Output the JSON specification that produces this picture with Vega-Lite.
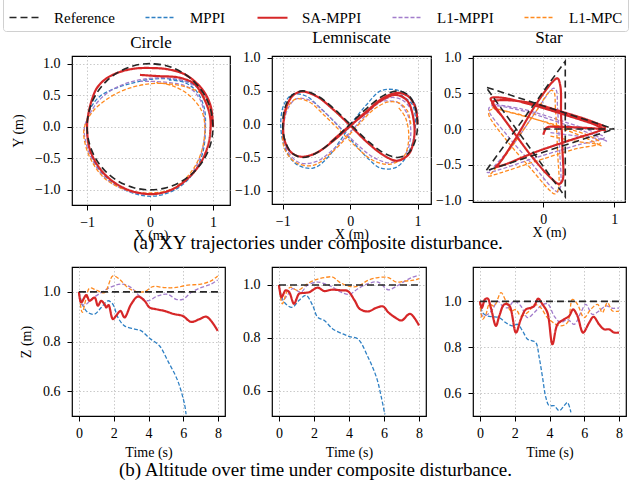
{
"$schema":"https://vega.github.io/schema/vega-lite/v6.json",
"padding":{"left":2,"top":-5,"right":0,"bottom":4},
"title":{"text":"(b) Altitude over time under composite disturbance.","orient":"bottom","anchor":"middle","fontSize":19,"offset":1},
"columns":3,
"bounds":"flush",
"align":"each",
"spacing":{"row":62,"column":42},
"resolve":{"scale":{"color":"shared","strokeDash":"shared","strokeWidth":"shared"},"legend":{"color":"shared","strokeDash":"shared","strokeWidth":"shared"}},
"datasets":{
"xy":[
{"p":"c","m":"MPPI","i":0,"x":1.0,"y":0.0},{"p":"c","m":"MPPI","i":1,"x":0.96,"y":0.3},{"p":"c","m":"MPPI","i":2,"x":0.84,"y":0.55},{"p":"c","m":"MPPI","i":3,"x":0.62,"y":0.7},{"p":"c","m":"MPPI","i":4,"x":0.3,"y":0.76},{"p":"c","m":"MPPI","i":5,"x":0.0,"y":0.75},{"p":"c","m":"MPPI","i":6,"x":-0.36,"y":0.67},{"p":"c","m":"MPPI","i":7,"x":-0.62,"y":0.58},{"p":"c","m":"MPPI","i":8,"x":-0.8,"y":0.48},{"p":"c","m":"MPPI","i":9,"x":-0.94,"y":0.3},{"p":"c","m":"MPPI","i":10,"x":-1.0,"y":0.04},{"p":"c","m":"MPPI","i":11,"x":-0.98,"y":-0.27},{"p":"c","m":"MPPI","i":12,"x":-0.86,"y":-0.6},{"p":"c","m":"MPPI","i":13,"x":-0.6,"y":-0.88},{"p":"c","m":"MPPI","i":14,"x":-0.28,"y":-1.05},{"p":"c","m":"MPPI","i":15,"x":0.06,"y":-1.1},{"p":"c","m":"MPPI","i":16,"x":0.43,"y":-0.98},{"p":"c","m":"MPPI","i":17,"x":0.7,"y":-0.72},{"p":"c","m":"MPPI","i":18,"x":0.84,"y":-0.4},{"p":"c","m":"MPPI","i":19,"x":0.88,"y":0.0},{"p":"c","m":"MPPI","i":20,"x":0.86,"y":0.3},{"p":"c","m":"MPPI","i":21,"x":0.74,"y":0.56},{"p":"c","m":"MPPI","i":22,"x":0.55,"y":0.7},{"p":"c","m":"MPPI","i":23,"x":0.3,"y":0.74},
{"p":"c","m":"L1-MPPI","i":0,"x":1.0,"y":0.0},{"p":"c","m":"L1-MPPI","i":1,"x":0.95,"y":0.32},{"p":"c","m":"L1-MPPI","i":2,"x":0.82,"y":0.56},{"p":"c","m":"L1-MPPI","i":3,"x":0.6,"y":0.7},{"p":"c","m":"L1-MPPI","i":4,"x":0.3,"y":0.77},{"p":"c","m":"L1-MPPI","i":5,"x":-0.05,"y":0.76},{"p":"c","m":"L1-MPPI","i":6,"x":-0.4,"y":0.68},{"p":"c","m":"L1-MPPI","i":7,"x":-0.7,"y":0.52},{"p":"c","m":"L1-MPPI","i":8,"x":-0.9,"y":0.3},{"p":"c","m":"L1-MPPI","i":9,"x":-1.04,"y":0.0},{"p":"c","m":"L1-MPPI","i":10,"x":-1.03,"y":-0.2},{"p":"c","m":"L1-MPPI","i":11,"x":-0.92,"y":-0.52},{"p":"c","m":"L1-MPPI","i":12,"x":-0.7,"y":-0.82},{"p":"c","m":"L1-MPPI","i":13,"x":-0.4,"y":-1.0},{"p":"c","m":"L1-MPPI","i":14,"x":-0.05,"y":-1.07},{"p":"c","m":"L1-MPPI","i":15,"x":0.3,"y":-1.02},{"p":"c","m":"L1-MPPI","i":16,"x":0.6,"y":-0.82},{"p":"c","m":"L1-MPPI","i":17,"x":0.78,"y":-0.52},{"p":"c","m":"L1-MPPI","i":18,"x":0.86,"y":-0.2},{"p":"c","m":"L1-MPPI","i":19,"x":0.87,"y":0.1},{"p":"c","m":"L1-MPPI","i":20,"x":0.8,"y":0.42},{"p":"c","m":"L1-MPPI","i":21,"x":0.62,"y":0.62},{"p":"c","m":"L1-MPPI","i":22,"x":0.3,"y":0.7},{"p":"c","m":"L1-MPPI","i":23,"x":-0.15,"y":0.72},
{"p":"c","m":"L1-MPC","i":0,"x":1.0,"y":0.0},{"p":"c","m":"L1-MPC","i":1,"x":0.95,"y":0.3},{"p":"c","m":"L1-MPC","i":2,"x":0.82,"y":0.52},{"p":"c","m":"L1-MPC","i":3,"x":0.6,"y":0.62},{"p":"c","m":"L1-MPC","i":4,"x":0.3,"y":0.68},{"p":"c","m":"L1-MPC","i":5,"x":0.0,"y":0.68},{"p":"c","m":"L1-MPC","i":6,"x":-0.36,"y":0.6},{"p":"c","m":"L1-MPC","i":7,"x":-0.68,"y":0.44},{"p":"c","m":"L1-MPC","i":8,"x":-0.92,"y":0.23},{"p":"c","m":"L1-MPC","i":9,"x":-1.04,"y":0.0},{"p":"c","m":"L1-MPC","i":10,"x":-1.05,"y":-0.17},{"p":"c","m":"L1-MPC","i":11,"x":-0.95,"y":-0.5},{"p":"c","m":"L1-MPC","i":12,"x":-0.72,"y":-0.82},{"p":"c","m":"L1-MPC","i":13,"x":-0.38,"y":-1.0},{"p":"c","m":"L1-MPC","i":14,"x":0.0,"y":-1.05},{"p":"c","m":"L1-MPC","i":15,"x":0.38,"y":-0.97},{"p":"c","m":"L1-MPC","i":16,"x":0.68,"y":-0.68},{"p":"c","m":"L1-MPC","i":17,"x":0.83,"y":-0.35},{"p":"c","m":"L1-MPC","i":18,"x":0.87,"y":0.0},{"p":"c","m":"L1-MPC","i":19,"x":0.82,"y":0.25},{"p":"c","m":"L1-MPC","i":20,"x":0.62,"y":0.5},{"p":"c","m":"L1-MPC","i":21,"x":0.35,"y":0.65},{"p":"c","m":"L1-MPC","i":22,"x":0.1,"y":0.7},
{"p":"c","m":"SA-MPPI","i":0,"x":1.0,"y":0.0},{"p":"c","m":"SA-MPPI","i":1,"x":0.97,"y":0.3},{"p":"c","m":"SA-MPPI","i":2,"x":0.88,"y":0.52},{"p":"c","m":"SA-MPPI","i":3,"x":0.75,"y":0.68},{"p":"c","m":"SA-MPPI","i":4,"x":0.55,"y":0.83},{"p":"c","m":"SA-MPPI","i":5,"x":0.28,"y":0.91},{"p":"c","m":"SA-MPPI","i":6,"x":0.0,"y":0.93},{"p":"c","m":"SA-MPPI","i":7,"x":-0.25,"y":0.92},{"p":"c","m":"SA-MPPI","i":8,"x":-0.5,"y":0.86},{"p":"c","m":"SA-MPPI","i":9,"x":-0.7,"y":0.76},{"p":"c","m":"SA-MPPI","i":10,"x":-0.84,"y":0.62},{"p":"c","m":"SA-MPPI","i":11,"x":-0.92,"y":0.44},{"p":"c","m":"SA-MPPI","i":12,"x":-0.98,"y":0.2},{"p":"c","m":"SA-MPPI","i":13,"x":-1.0,"y":0.0},{"p":"c","m":"SA-MPPI","i":14,"x":-0.96,"y":-0.35},{"p":"c","m":"SA-MPPI","i":15,"x":-0.8,"y":-0.66},{"p":"c","m":"SA-MPPI","i":16,"x":-0.6,"y":-0.86},{"p":"c","m":"SA-MPPI","i":17,"x":-0.35,"y":-1.0},{"p":"c","m":"SA-MPPI","i":18,"x":-0.1,"y":-1.06},{"p":"c","m":"SA-MPPI","i":19,"x":0.12,"y":-1.06},{"p":"c","m":"SA-MPPI","i":20,"x":0.38,"y":-0.98},{"p":"c","m":"SA-MPPI","i":21,"x":0.62,"y":-0.8},{"p":"c","m":"SA-MPPI","i":22,"x":0.8,"y":-0.58},{"p":"c","m":"SA-MPPI","i":23,"x":0.92,"y":-0.3},{"p":"c","m":"SA-MPPI","i":24,"x":0.96,"y":-0.05},{"p":"c","m":"SA-MPPI","i":25,"x":0.95,"y":0.18},{"p":"c","m":"SA-MPPI","i":26,"x":0.86,"y":0.44},{"p":"c","m":"SA-MPPI","i":27,"x":0.7,"y":0.68},{"p":"c","m":"SA-MPPI","i":28,"x":0.45,"y":0.78},{"p":"c","m":"SA-MPPI","i":29,"x":0.15,"y":0.8},{"p":"c","m":"SA-MPPI","i":30,"x":-0.16,"y":0.82},
{"p":"c","m":"Reference","i":0,"x":1.0,"y":0.0},{"p":"c","m":"Reference","i":1,"x":0.966,"y":0.259},{"p":"c","m":"Reference","i":2,"x":0.866,"y":0.5},{"p":"c","m":"Reference","i":3,"x":0.707,"y":0.707},{"p":"c","m":"Reference","i":4,"x":0.5,"y":0.866},{"p":"c","m":"Reference","i":5,"x":0.259,"y":0.966},{"p":"c","m":"Reference","i":6,"x":0.0,"y":1.0},{"p":"c","m":"Reference","i":7,"x":-0.259,"y":0.966},{"p":"c","m":"Reference","i":8,"x":-0.5,"y":0.866},{"p":"c","m":"Reference","i":9,"x":-0.707,"y":0.707},{"p":"c","m":"Reference","i":10,"x":-0.866,"y":0.5},{"p":"c","m":"Reference","i":11,"x":-0.966,"y":0.259},{"p":"c","m":"Reference","i":12,"x":-1.0,"y":0.0},{"p":"c","m":"Reference","i":13,"x":-0.966,"y":-0.259},{"p":"c","m":"Reference","i":14,"x":-0.866,"y":-0.5},{"p":"c","m":"Reference","i":15,"x":-0.707,"y":-0.707},{"p":"c","m":"Reference","i":16,"x":-0.5,"y":-0.866},{"p":"c","m":"Reference","i":17,"x":-0.259,"y":-0.966},{"p":"c","m":"Reference","i":18,"x":0.0,"y":-1.0},{"p":"c","m":"Reference","i":19,"x":0.259,"y":-0.966},{"p":"c","m":"Reference","i":20,"x":0.5,"y":-0.866},{"p":"c","m":"Reference","i":21,"x":0.707,"y":-0.707},{"p":"c","m":"Reference","i":22,"x":0.866,"y":-0.5},{"p":"c","m":"Reference","i":23,"x":0.966,"y":-0.259},{"p":"c","m":"Reference","i":24,"x":1.0,"y":0.0},{"p":"c","m":"Reference","i":25,"x":0.966,"y":0.259},{"p":"c","m":"Reference","i":26,"x":0.866,"y":0.5},{"p":"c","m":"Reference","i":27,"x":0.707,"y":0.707},{"p":"c","m":"Reference","i":28,"x":0.5,"y":0.866},{"p":"c","m":"Reference","i":29,"x":0.259,"y":0.966},{"p":"c","m":"Reference","i":30,"x":0.0,"y":1.0},
{"p":"l","m":"MPPI","i":0,"x":1.0,"y":0.0},{"p":"l","m":"MPPI","i":1,"x":0.97,"y":0.28},{"p":"l","m":"MPPI","i":2,"x":0.84,"y":0.45},{"p":"l","m":"MPPI","i":3,"x":0.65,"y":0.52},{"p":"l","m":"MPPI","i":4,"x":0.45,"y":0.5},{"p":"l","m":"MPPI","i":5,"x":0.25,"y":0.3},{"p":"l","m":"MPPI","i":6,"x":0.05,"y":0.05},{"p":"l","m":"MPPI","i":7,"x":-0.15,"y":-0.25},{"p":"l","m":"MPPI","i":8,"x":-0.35,"y":-0.52},{"p":"l","m":"MPPI","i":9,"x":-0.55,"y":-0.66},{"p":"l","m":"MPPI","i":10,"x":-0.8,"y":-0.6},{"p":"l","m":"MPPI","i":11,"x":-0.97,"y":-0.35},{"p":"l","m":"MPPI","i":12,"x":-1.03,"y":0.0},{"p":"l","m":"MPPI","i":13,"x":-0.98,"y":0.3},{"p":"l","m":"MPPI","i":14,"x":-0.85,"y":0.45},{"p":"l","m":"MPPI","i":15,"x":-0.65,"y":0.42},{"p":"l","m":"MPPI","i":16,"x":-0.45,"y":0.25},{"p":"l","m":"MPPI","i":17,"x":-0.2,"y":0.0},{"p":"l","m":"MPPI","i":18,"x":0.05,"y":-0.28},{"p":"l","m":"MPPI","i":19,"x":0.25,"y":-0.5},{"p":"l","m":"MPPI","i":20,"x":0.45,"y":-0.66},{"p":"l","m":"MPPI","i":21,"x":0.7,"y":-0.64},{"p":"l","m":"MPPI","i":22,"x":0.9,"y":-0.35},{"p":"l","m":"MPPI","i":23,"x":0.97,"y":0.0},{"p":"l","m":"MPPI","i":24,"x":0.92,"y":0.3},{"p":"l","m":"MPPI","i":25,"x":0.75,"y":0.44},
{"p":"l","m":"L1-MPPI","i":0,"x":0.95,"y":0.0},{"p":"l","m":"L1-MPPI","i":1,"x":0.9,"y":0.22},{"p":"l","m":"L1-MPPI","i":2,"x":0.78,"y":0.36},{"p":"l","m":"L1-MPPI","i":3,"x":0.6,"y":0.4},{"p":"l","m":"L1-MPPI","i":4,"x":0.4,"y":0.3},{"p":"l","m":"L1-MPPI","i":5,"x":0.2,"y":0.1},{"p":"l","m":"L1-MPPI","i":6,"x":0.0,"y":-0.12},{"p":"l","m":"L1-MPPI","i":7,"x":-0.25,"y":-0.38},{"p":"l","m":"L1-MPPI","i":8,"x":-0.5,"y":-0.56},{"p":"l","m":"L1-MPPI","i":9,"x":-0.75,"y":-0.58},{"p":"l","m":"L1-MPPI","i":10,"x":-0.93,"y":-0.4},{"p":"l","m":"L1-MPPI","i":11,"x":-0.99,"y":-0.1},{"p":"l","m":"L1-MPPI","i":12,"x":-0.93,"y":0.22},{"p":"l","m":"L1-MPPI","i":13,"x":-0.8,"y":0.38},{"p":"l","m":"L1-MPPI","i":14,"x":-0.6,"y":0.36},{"p":"l","m":"L1-MPPI","i":15,"x":-0.4,"y":0.2},{"p":"l","m":"L1-MPPI","i":16,"x":-0.15,"y":-0.05},{"p":"l","m":"L1-MPPI","i":17,"x":0.1,"y":-0.3},{"p":"l","m":"L1-MPPI","i":18,"x":0.35,"y":-0.5},{"p":"l","m":"L1-MPPI","i":19,"x":0.6,"y":-0.58},{"p":"l","m":"L1-MPPI","i":20,"x":0.82,"y":-0.45},{"p":"l","m":"L1-MPPI","i":21,"x":0.9,"y":-0.15},{"p":"l","m":"L1-MPPI","i":22,"x":0.85,"y":0.15},{"p":"l","m":"L1-MPPI","i":23,"x":0.7,"y":0.33},{"p":"l","m":"L1-MPPI","i":24,"x":0.5,"y":0.35},
{"p":"l","m":"L1-MPC","i":0,"x":0.9,"y":0.0},{"p":"l","m":"L1-MPC","i":1,"x":0.85,"y":0.2},{"p":"l","m":"L1-MPC","i":2,"x":0.72,"y":0.32},{"p":"l","m":"L1-MPC","i":3,"x":0.55,"y":0.33},{"p":"l","m":"L1-MPC","i":4,"x":0.35,"y":0.22},{"p":"l","m":"L1-MPC","i":5,"x":0.15,"y":0.02},{"p":"l","m":"L1-MPC","i":6,"x":-0.05,"y":-0.2},{"p":"l","m":"L1-MPC","i":7,"x":-0.3,"y":-0.45},{"p":"l","m":"L1-MPC","i":8,"x":-0.55,"y":-0.62},{"p":"l","m":"L1-MPC","i":9,"x":-0.8,"y":-0.58},{"p":"l","m":"L1-MPC","i":10,"x":-0.97,"y":-0.38},{"p":"l","m":"L1-MPC","i":11,"x":-1.0,"y":-0.08},{"p":"l","m":"L1-MPC","i":12,"x":-0.93,"y":0.25},{"p":"l","m":"L1-MPC","i":13,"x":-0.8,"y":0.38},{"p":"l","m":"L1-MPC","i":14,"x":-0.6,"y":0.33},{"p":"l","m":"L1-MPC","i":15,"x":-0.4,"y":0.15},{"p":"l","m":"L1-MPC","i":16,"x":-0.15,"y":-0.1},{"p":"l","m":"L1-MPC","i":17,"x":0.1,"y":-0.35},{"p":"l","m":"L1-MPC","i":18,"x":0.35,"y":-0.55},{"p":"l","m":"L1-MPC","i":19,"x":0.6,"y":-0.6},{"p":"l","m":"L1-MPC","i":20,"x":0.8,"y":-0.48},{"p":"l","m":"L1-MPC","i":21,"x":0.87,"y":-0.2},{"p":"l","m":"L1-MPC","i":22,"x":0.82,"y":0.1},{"p":"l","m":"L1-MPC","i":23,"x":0.7,"y":0.27},
{"p":"l","m":"SA-MPPI","i":0,"x":1.0,"y":0.0},{"p":"l","m":"SA-MPPI","i":1,"x":0.97,"y":0.25},{"p":"l","m":"SA-MPPI","i":2,"x":0.86,"y":0.42},{"p":"l","m":"SA-MPPI","i":3,"x":0.7,"y":0.47},{"p":"l","m":"SA-MPPI","i":4,"x":0.5,"y":0.4},{"p":"l","m":"SA-MPPI","i":5,"x":0.25,"y":0.2},{"p":"l","m":"SA-MPPI","i":6,"x":0.0,"y":-0.03},{"p":"l","m":"SA-MPPI","i":7,"x":-0.25,"y":-0.25},{"p":"l","m":"SA-MPPI","i":8,"x":-0.5,"y":-0.43},{"p":"l","m":"SA-MPPI","i":9,"x":-0.72,"y":-0.49},{"p":"l","m":"SA-MPPI","i":10,"x":-0.88,"y":-0.42},{"p":"l","m":"SA-MPPI","i":11,"x":-0.98,"y":-0.22},{"p":"l","m":"SA-MPPI","i":12,"x":-0.99,"y":0.02},{"p":"l","m":"SA-MPPI","i":13,"x":-0.95,"y":0.25},{"p":"l","m":"SA-MPPI","i":14,"x":-0.85,"y":0.43},{"p":"l","m":"SA-MPPI","i":15,"x":-0.72,"y":0.49},{"p":"l","m":"SA-MPPI","i":16,"x":-0.5,"y":0.42},{"p":"l","m":"SA-MPPI","i":17,"x":-0.25,"y":0.22},{"p":"l","m":"SA-MPPI","i":18,"x":0.0,"y":-0.02},{"p":"l","m":"SA-MPPI","i":19,"x":0.25,"y":-0.27},{"p":"l","m":"SA-MPPI","i":20,"x":0.5,"y":-0.47},{"p":"l","m":"SA-MPPI","i":21,"x":0.7,"y":-0.55},{"p":"l","m":"SA-MPPI","i":22,"x":0.87,"y":-0.45},{"p":"l","m":"SA-MPPI","i":23,"x":0.95,"y":-0.2},{"p":"l","m":"SA-MPPI","i":24,"x":0.94,"y":0.08},{"p":"l","m":"SA-MPPI","i":25,"x":0.85,"y":0.35},{"p":"l","m":"SA-MPPI","i":26,"x":0.68,"y":0.44},{"p":"l","m":"SA-MPPI","i":27,"x":0.45,"y":0.35},{"p":"l","m":"SA-MPPI","i":28,"x":0.2,"y":0.14},{"p":"l","m":"SA-MPPI","i":29,"x":-0.05,"y":-0.06},{"p":"l","m":"SA-MPPI","i":30,"x":-0.3,"y":-0.28},
{"p":"l","m":"Reference","i":0,"x":1.0,"y":0.0},{"p":"l","m":"Reference","i":1,"x":0.966,"y":0.25},{"p":"l","m":"Reference","i":2,"x":0.866,"y":0.433},{"p":"l","m":"Reference","i":3,"x":0.707,"y":0.5},{"p":"l","m":"Reference","i":4,"x":0.5,"y":0.433},{"p":"l","m":"Reference","i":5,"x":0.259,"y":0.25},{"p":"l","m":"Reference","i":6,"x":0.0,"y":0.0},{"p":"l","m":"Reference","i":7,"x":-0.259,"y":-0.25},{"p":"l","m":"Reference","i":8,"x":-0.5,"y":-0.433},{"p":"l","m":"Reference","i":9,"x":-0.707,"y":-0.5},{"p":"l","m":"Reference","i":10,"x":-0.866,"y":-0.433},{"p":"l","m":"Reference","i":11,"x":-0.966,"y":-0.25},{"p":"l","m":"Reference","i":12,"x":-1.0,"y":0.0},{"p":"l","m":"Reference","i":13,"x":-0.966,"y":0.25},{"p":"l","m":"Reference","i":14,"x":-0.866,"y":0.433},{"p":"l","m":"Reference","i":15,"x":-0.707,"y":0.5},{"p":"l","m":"Reference","i":16,"x":-0.5,"y":0.433},{"p":"l","m":"Reference","i":17,"x":-0.259,"y":0.25},{"p":"l","m":"Reference","i":18,"x":0.0,"y":0.0},{"p":"l","m":"Reference","i":19,"x":0.259,"y":-0.25},{"p":"l","m":"Reference","i":20,"x":0.5,"y":-0.433},{"p":"l","m":"Reference","i":21,"x":0.707,"y":-0.5},{"p":"l","m":"Reference","i":22,"x":0.866,"y":-0.433},{"p":"l","m":"Reference","i":23,"x":0.966,"y":-0.25},{"p":"l","m":"Reference","i":24,"x":1.0,"y":0.0},{"p":"l","m":"Reference","i":25,"x":0.966,"y":0.25},{"p":"l","m":"Reference","i":26,"x":0.866,"y":0.433},{"p":"l","m":"Reference","i":27,"x":0.707,"y":0.5},{"p":"l","m":"Reference","i":28,"x":0.5,"y":0.433},{"p":"l","m":"Reference","i":29,"x":0.259,"y":0.25},{"p":"l","m":"Reference","i":30,"x":0.0,"y":0.0},
{"p":"s","m":"L1-MPPI","i":0,"x":0.1,"y":-0.05},{"p":"s","m":"L1-MPPI","i":1,"x":0.5,"y":-0.1},{"p":"s","m":"L1-MPPI","i":2,"x":0.85,"y":-0.15},{"p":"s","m":"L1-MPPI","i":3,"x":0.89,"y":-0.17},{"p":"s","m":"L1-MPPI","i":4,"x":0.7,"y":-0.08},{"p":"s","m":"L1-MPPI","i":5,"x":0.2,"y":0.1},{"p":"s","m":"L1-MPPI","i":6,"x":-0.4,"y":0.28},{"p":"s","m":"L1-MPPI","i":7,"x":-0.74,"y":0.32},{"p":"s","m":"L1-MPPI","i":8,"x":-0.77,"y":0.27},{"p":"s","m":"L1-MPPI","i":9,"x":-0.5,"y":-0.1},{"p":"s","m":"L1-MPPI","i":10,"x":-0.15,"y":-0.5},{"p":"s","m":"L1-MPPI","i":11,"x":0.12,"y":-0.82},{"p":"s","m":"L1-MPPI","i":12,"x":0.2,"y":-0.88},{"p":"s","m":"L1-MPPI","i":13,"x":0.24,"y":-0.82},{"p":"s","m":"L1-MPPI","i":14,"x":0.23,"y":-0.3},{"p":"s","m":"L1-MPPI","i":15,"x":0.2,"y":0.3},{"p":"s","m":"L1-MPPI","i":16,"x":0.18,"y":0.55},{"p":"s","m":"L1-MPPI","i":17,"x":0.14,"y":0.57},{"p":"s","m":"L1-MPPI","i":18,"x":-0.1,"y":0.25},{"p":"s","m":"L1-MPPI","i":19,"x":-0.45,"y":-0.25},{"p":"s","m":"L1-MPPI","i":20,"x":-0.74,"y":-0.57},{"p":"s","m":"L1-MPPI","i":21,"x":-0.79,"y":-0.61},{"p":"s","m":"L1-MPPI","i":22,"x":-0.65,"y":-0.58},{"p":"s","m":"L1-MPPI","i":23,"x":-0.1,"y":-0.4},{"p":"s","m":"L1-MPPI","i":24,"x":0.5,"y":-0.22},{"p":"s","m":"L1-MPPI","i":25,"x":0.86,"y":-0.12},{"p":"s","m":"L1-MPPI","i":26,"x":0.8,"y":-0.08},{"p":"s","m":"L1-MPPI","i":27,"x":0.3,"y":0.1},{"p":"s","m":"L1-MPPI","i":28,"x":-0.3,"y":0.28},{"p":"s","m":"L1-MPPI","i":29,"x":-0.72,"y":0.35},
{"p":"s","m":"L1-MPC","i":0,"x":0.1,"y":-0.1},{"p":"s","m":"L1-MPC","i":1,"x":0.45,"y":-0.17},{"p":"s","m":"L1-MPC","i":2,"x":0.78,"y":-0.22},{"p":"s","m":"L1-MPC","i":3,"x":0.82,"y":-0.24},{"p":"s","m":"L1-MPC","i":4,"x":0.65,"y":-0.15},{"p":"s","m":"L1-MPC","i":5,"x":0.15,"y":0.05},{"p":"s","m":"L1-MPC","i":6,"x":-0.4,"y":0.22},{"p":"s","m":"L1-MPC","i":7,"x":-0.74,"y":0.27},{"p":"s","m":"L1-MPC","i":8,"x":-0.77,"y":0.21},{"p":"s","m":"L1-MPC","i":9,"x":-0.5,"y":-0.18},{"p":"s","m":"L1-MPC","i":10,"x":-0.18,"y":-0.55},{"p":"s","m":"L1-MPC","i":11,"x":0.08,"y":-0.85},{"p":"s","m":"L1-MPC","i":12,"x":0.16,"y":-0.91},{"p":"s","m":"L1-MPC","i":13,"x":0.21,"y":-0.85},{"p":"s","m":"L1-MPC","i":14,"x":0.2,"y":-0.3},{"p":"s","m":"L1-MPC","i":15,"x":0.17,"y":0.3},{"p":"s","m":"L1-MPC","i":16,"x":0.15,"y":0.52},{"p":"s","m":"L1-MPC","i":17,"x":0.11,"y":0.54},{"p":"s","m":"L1-MPC","i":18,"x":-0.12,"y":0.22},{"p":"s","m":"L1-MPC","i":19,"x":-0.48,"y":-0.3},{"p":"s","m":"L1-MPC","i":20,"x":-0.73,"y":-0.62},{"p":"s","m":"L1-MPC","i":21,"x":-0.77,"y":-0.66},{"p":"s","m":"L1-MPC","i":22,"x":-0.62,"y":-0.62},{"p":"s","m":"L1-MPC","i":23,"x":-0.1,"y":-0.45},{"p":"s","m":"L1-MPC","i":24,"x":0.45,"y":-0.28},{"p":"s","m":"L1-MPC","i":25,"x":0.8,"y":-0.2},{"p":"s","m":"L1-MPC","i":26,"x":0.7,"y":-0.12},{"p":"s","m":"L1-MPC","i":27,"x":0.2,"y":0.05},{"p":"s","m":"L1-MPC","i":28,"x":-0.35,"y":0.2},{"p":"s","m":"L1-MPC","i":29,"x":-0.72,"y":0.3},
{"p":"s","m":"SA-MPPI","i":0,"x":0.0,"y":-0.08},{"p":"s","m":"SA-MPPI","i":1,"x":0.05,"y":0.02},{"p":"s","m":"SA-MPPI","i":2,"x":0.2,"y":0.03},{"p":"s","m":"SA-MPPI","i":3,"x":0.5,"y":0.02},{"p":"s","m":"SA-MPPI","i":4,"x":0.8,"y":0.0},{"p":"s","m":"SA-MPPI","i":5,"x":0.87,"y":-0.02},{"p":"s","m":"SA-MPPI","i":6,"x":0.75,"y":0.05},{"p":"s","m":"SA-MPPI","i":7,"x":0.3,"y":0.2},{"p":"s","m":"SA-MPPI","i":8,"x":-0.2,"y":0.35},{"p":"s","m":"SA-MPPI","i":9,"x":-0.6,"y":0.44},{"p":"s","m":"SA-MPPI","i":10,"x":-0.74,"y":0.43},{"p":"s","m":"SA-MPPI","i":11,"x":-0.7,"y":0.35},{"p":"s","m":"SA-MPPI","i":12,"x":-0.45,"y":0.0},{"p":"s","m":"SA-MPPI","i":13,"x":-0.15,"y":-0.4},{"p":"s","m":"SA-MPPI","i":14,"x":0.1,"y":-0.68},{"p":"s","m":"SA-MPPI","i":15,"x":0.22,"y":-0.77},{"p":"s","m":"SA-MPPI","i":16,"x":0.27,"y":-0.72},{"p":"s","m":"SA-MPPI","i":17,"x":0.27,"y":-0.3},{"p":"s","m":"SA-MPPI","i":18,"x":0.25,"y":0.2},{"p":"s","m":"SA-MPPI","i":19,"x":0.24,"y":0.6},{"p":"s","m":"SA-MPPI","i":20,"x":0.2,"y":0.71},{"p":"s","m":"SA-MPPI","i":21,"x":0.13,"y":0.66},{"p":"s","m":"SA-MPPI","i":22,"x":-0.1,"y":0.35},{"p":"s","m":"SA-MPPI","i":23,"x":-0.4,"y":-0.15},{"p":"s","m":"SA-MPPI","i":24,"x":-0.62,"y":-0.48},{"p":"s","m":"SA-MPPI","i":25,"x":-0.67,"y":-0.53},{"p":"s","m":"SA-MPPI","i":26,"x":-0.55,"y":-0.5},{"p":"s","m":"SA-MPPI","i":27,"x":-0.1,"y":-0.32},{"p":"s","m":"SA-MPPI","i":28,"x":0.4,"y":-0.15},{"p":"s","m":"SA-MPPI","i":29,"x":0.8,"y":-0.02},{"p":"s","m":"SA-MPPI","i":30,"x":0.87,"y":0.02},{"p":"s","m":"SA-MPPI","i":31,"x":0.7,"y":0.1},{"p":"s","m":"SA-MPPI","i":32,"x":0.3,"y":0.23},{"p":"s","m":"SA-MPPI","i":33,"x":-0.2,"y":0.37},{"p":"s","m":"SA-MPPI","i":34,"x":-0.65,"y":0.4},{"p":"s","m":"SA-MPPI","i":35,"x":-0.72,"y":0.37},{"p":"s","m":"SA-MPPI","i":36,"x":-0.6,"y":0.2},
{"p":"s","m":"Reference","i":0,"x":0.0,"y":0.0},{"p":"s","m":"Reference","i":1,"x":1.0,"y":0.0},{"p":"s","m":"Reference","i":2,"x":-0.809,"y":0.588},{"p":"s","m":"Reference","i":3,"x":0.309,"y":-0.951},{"p":"s","m":"Reference","i":4,"x":0.309,"y":0.951},{"p":"s","m":"Reference","i":5,"x":-0.809,"y":-0.588},{"p":"s","m":"Reference","i":6,"x":1.0,"y":0.0}
],
"z":[
{"p":"c","m":"MPPI","i":0,"t":0,"z":1.0},{"p":"c","m":"MPPI","i":1,"t":0.23,"z":0.944},{"p":"c","m":"MPPI","i":2,"t":0.52,"z":0.917},{"p":"c","m":"MPPI","i":3,"t":0.9,"z":0.91},{"p":"c","m":"MPPI","i":4,"t":1.28,"z":0.937},{"p":"c","m":"MPPI","i":5,"t":1.67,"z":0.964},{"p":"c","m":"MPPI","i":6,"t":1.95,"z":0.95},{"p":"c","m":"MPPI","i":7,"t":2.24,"z":0.897},{"p":"c","m":"MPPI","i":8,"t":2.62,"z":0.863},{"p":"c","m":"MPPI","i":9,"t":3.2,"z":0.85},{"p":"c","m":"MPPI","i":10,"t":3.58,"z":0.843},{"p":"c","m":"MPPI","i":11,"t":4.06,"z":0.813},{"p":"c","m":"MPPI","i":12,"t":4.63,"z":0.783},{"p":"c","m":"MPPI","i":13,"t":5.11,"z":0.722},{"p":"c","m":"MPPI","i":14,"t":5.68,"z":0.642},{"p":"c","m":"MPPI","i":15,"t":6.07,"z":0.548},{"p":"c","m":"MPPI","i":16,"t":6.16,"z":0.507},
{"p":"c","m":"L1-MPPI","i":0,"t":0,"z":1.0},{"p":"c","m":"L1-MPPI","i":1,"t":0.13,"z":0.95},{"p":"c","m":"L1-MPPI","i":2,"t":0.42,"z":0.95},{"p":"c","m":"L1-MPPI","i":3,"t":0.71,"z":0.97},{"p":"c","m":"L1-MPPI","i":4,"t":1.28,"z":0.997},{"p":"c","m":"L1-MPPI","i":5,"t":1.86,"z":1.02},{"p":"c","m":"L1-MPPI","i":6,"t":2.43,"z":1.031},{"p":"c","m":"L1-MPPI","i":7,"t":3.0,"z":1.017},{"p":"c","m":"L1-MPPI","i":8,"t":3.58,"z":0.977},{"p":"c","m":"L1-MPPI","i":9,"t":3.96,"z":0.964},{"p":"c","m":"L1-MPPI","i":10,"t":4.54,"z":0.984},{"p":"c","m":"L1-MPPI","i":11,"t":5.11,"z":0.99},{"p":"c","m":"L1-MPPI","i":12,"t":5.59,"z":0.97},{"p":"c","m":"L1-MPPI","i":13,"t":5.97,"z":0.97},{"p":"c","m":"L1-MPPI","i":14,"t":6.45,"z":0.997},{"p":"c","m":"L1-MPPI","i":15,"t":7.02,"z":1.017},{"p":"c","m":"L1-MPPI","i":16,"t":7.6,"z":1.031},{"p":"c","m":"L1-MPPI","i":17,"t":7.98,"z":1.048},
{"p":"c","m":"L1-MPC","i":0,"t":0,"z":1.0},{"p":"c","m":"L1-MPC","i":1,"t":0.19,"z":0.917},{"p":"c","m":"L1-MPC","i":2,"t":0.42,"z":0.977},{"p":"c","m":"L1-MPC","i":3,"t":0.61,"z":1.015},{"p":"c","m":"L1-MPC","i":4,"t":1.0,"z":1.007},{"p":"c","m":"L1-MPC","i":5,"t":1.47,"z":0.997},{"p":"c","m":"L1-MPC","i":6,"t":1.95,"z":1.064},{"p":"c","m":"L1-MPC","i":7,"t":2.33,"z":1.051},{"p":"c","m":"L1-MPC","i":8,"t":2.81,"z":1.017},{"p":"c","m":"L1-MPC","i":9,"t":3.29,"z":1.001},{"p":"c","m":"L1-MPC","i":10,"t":3.77,"z":1.001},{"p":"c","m":"L1-MPC","i":11,"t":4.25,"z":1.021},{"p":"c","m":"L1-MPC","i":12,"t":4.92,"z":1.017},{"p":"c","m":"L1-MPC","i":13,"t":5.49,"z":1.017},{"p":"c","m":"L1-MPC","i":14,"t":6.26,"z":1.027},{"p":"c","m":"L1-MPC","i":15,"t":7.02,"z":1.031},{"p":"c","m":"L1-MPC","i":16,"t":7.6,"z":1.044},{"p":"c","m":"L1-MPC","i":17,"t":7.98,"z":1.064},
{"p":"c","m":"SA-MPPI","i":0,"t":0,"z":1.0},{"p":"c","m":"SA-MPPI","i":1,"t":0.13,"z":0.957},{"p":"c","m":"SA-MPPI","i":2,"t":0.42,"z":0.987},{"p":"c","m":"SA-MPPI","i":3,"t":0.61,"z":0.964},{"p":"c","m":"SA-MPPI","i":4,"t":0.9,"z":0.977},{"p":"c","m":"SA-MPPI","i":5,"t":1.09,"z":0.944},{"p":"c","m":"SA-MPPI","i":6,"t":1.28,"z":0.964},{"p":"c","m":"SA-MPPI","i":7,"t":1.47,"z":0.95},{"p":"c","m":"SA-MPPI","i":8,"t":1.57,"z":0.937},{"p":"c","m":"SA-MPPI","i":9,"t":1.7,"z":0.947},{"p":"c","m":"SA-MPPI","i":10,"t":1.95,"z":0.89},{"p":"c","m":"SA-MPPI","i":11,"t":2.14,"z":0.904},{"p":"c","m":"SA-MPPI","i":12,"t":2.39,"z":0.923},{"p":"c","m":"SA-MPPI","i":13,"t":2.62,"z":0.897},{"p":"c","m":"SA-MPPI","i":14,"t":3.0,"z":0.95},{"p":"c","m":"SA-MPPI","i":15,"t":3.39,"z":0.981},{"p":"c","m":"SA-MPPI","i":16,"t":3.77,"z":0.964},{"p":"c","m":"SA-MPPI","i":17,"t":4.06,"z":0.937},{"p":"c","m":"SA-MPPI","i":18,"t":4.44,"z":0.93},{"p":"c","m":"SA-MPPI","i":19,"t":4.92,"z":0.923},{"p":"c","m":"SA-MPPI","i":20,"t":5.49,"z":0.91},{"p":"c","m":"SA-MPPI","i":21,"t":5.97,"z":0.903},{"p":"c","m":"SA-MPPI","i":22,"t":6.45,"z":0.879},{"p":"c","m":"SA-MPPI","i":23,"t":6.93,"z":0.89},{"p":"c","m":"SA-MPPI","i":24,"t":7.31,"z":0.9},{"p":"c","m":"SA-MPPI","i":25,"t":7.6,"z":0.883},{"p":"c","m":"SA-MPPI","i":26,"t":7.98,"z":0.843},
{"p":"c","m":"Reference","i":0,"t":0,"z":1.0},{"p":"c","m":"Reference","i":1,"t":8,"z":1.0},
{"p":"l","m":"MPPI","i":0,"t":0,"z":1.0},{"p":"l","m":"MPPI","i":1,"t":0.19,"z":0.948},{"p":"l","m":"MPPI","i":2,"t":0.48,"z":0.923},{"p":"l","m":"MPPI","i":3,"t":0.77,"z":0.916},{"p":"l","m":"MPPI","i":4,"t":1.15,"z":0.942},{"p":"l","m":"MPPI","i":5,"t":1.54,"z":0.961},{"p":"l","m":"MPPI","i":6,"t":1.92,"z":0.923},{"p":"l","m":"MPPI","i":7,"t":2.21,"z":0.878},{"p":"l","m":"MPPI","i":8,"t":2.59,"z":0.866},{"p":"l","m":"MPPI","i":9,"t":3.07,"z":0.834},{"p":"l","m":"MPPI","i":10,"t":3.65,"z":0.815},{"p":"l","m":"MPPI","i":11,"t":4.03,"z":0.805},{"p":"l","m":"MPPI","i":12,"t":4.51,"z":0.796},{"p":"l","m":"MPPI","i":13,"t":5.09,"z":0.727},{"p":"l","m":"MPPI","i":14,"t":5.57,"z":0.651},{"p":"l","m":"MPPI","i":15,"t":5.85,"z":0.575},{"p":"l","m":"MPPI","i":16,"t":6.05,"z":0.511},
{"p":"l","m":"L1-MPPI","i":0,"t":0,"z":1.0},{"p":"l","m":"L1-MPPI","i":1,"t":0.19,"z":0.942},{"p":"l","m":"L1-MPPI","i":2,"t":0.48,"z":0.961},{"p":"l","m":"L1-MPPI","i":3,"t":0.77,"z":0.986},{"p":"l","m":"L1-MPPI","i":4,"t":1.25,"z":0.973},{"p":"l","m":"L1-MPPI","i":5,"t":1.63,"z":0.999},{"p":"l","m":"L1-MPPI","i":6,"t":2.21,"z":1.011},{"p":"l","m":"L1-MPPI","i":7,"t":2.59,"z":1.005},{"p":"l","m":"L1-MPPI","i":8,"t":2.98,"z":0.995},{"p":"l","m":"L1-MPPI","i":9,"t":3.55,"z":0.973},{"p":"l","m":"L1-MPPI","i":10,"t":4.03,"z":0.965},{"p":"l","m":"L1-MPPI","i":11,"t":4.51,"z":0.986},{"p":"l","m":"L1-MPPI","i":12,"t":5.09,"z":1.005},{"p":"l","m":"L1-MPPI","i":13,"t":5.66,"z":1.011},{"p":"l","m":"L1-MPPI","i":14,"t":6.24,"z":0.982},{"p":"l","m":"L1-MPPI","i":15,"t":6.62,"z":0.992},{"p":"l","m":"L1-MPPI","i":16,"t":7.1,"z":1.011},{"p":"l","m":"L1-MPPI","i":17,"t":7.58,"z":1.028},{"p":"l","m":"L1-MPPI","i":18,"t":8.0,"z":1.037},
{"p":"l","m":"L1-MPC","i":0,"t":0,"z":1.0},{"p":"l","m":"L1-MPC","i":1,"t":0.19,"z":0.929},{"p":"l","m":"L1-MPC","i":2,"t":0.48,"z":0.98},{"p":"l","m":"L1-MPC","i":3,"t":0.67,"z":0.992},{"p":"l","m":"L1-MPC","i":4,"t":1.06,"z":0.98},{"p":"l","m":"L1-MPC","i":5,"t":1.63,"z":1.005},{"p":"l","m":"L1-MPC","i":6,"t":2.11,"z":1.02},{"p":"l","m":"L1-MPC","i":7,"t":2.59,"z":1.028},{"p":"l","m":"L1-MPC","i":8,"t":3.07,"z":1.03},{"p":"l","m":"L1-MPC","i":9,"t":3.45,"z":1.011},{"p":"l","m":"L1-MPC","i":10,"t":4.03,"z":0.995},{"p":"l","m":"L1-MPC","i":11,"t":4.51,"z":0.995},{"p":"l","m":"L1-MPC","i":12,"t":5.09,"z":1.018},{"p":"l","m":"L1-MPC","i":13,"t":5.66,"z":1.028},{"p":"l","m":"L1-MPC","i":14,"t":6.24,"z":1.028},{"p":"l","m":"L1-MPC","i":15,"t":6.72,"z":1.011},{"p":"l","m":"L1-MPC","i":16,"t":7.2,"z":1.015},{"p":"l","m":"L1-MPC","i":17,"t":7.68,"z":1.018},{"p":"l","m":"L1-MPC","i":18,"t":8.0,"z":1.024},
{"p":"l","m":"SA-MPPI","i":0,"t":0,"z":1.0},{"p":"l","m":"SA-MPPI","i":1,"t":0.15,"z":0.954},{"p":"l","m":"SA-MPPI","i":2,"t":0.38,"z":0.98},{"p":"l","m":"SA-MPPI","i":3,"t":0.58,"z":0.973},{"p":"l","m":"SA-MPPI","i":4,"t":0.86,"z":0.929},{"p":"l","m":"SA-MPPI","i":5,"t":1.15,"z":0.967},{"p":"l","m":"SA-MPPI","i":6,"t":1.44,"z":0.97},{"p":"l","m":"SA-MPPI","i":7,"t":1.73,"z":0.973},{"p":"l","m":"SA-MPPI","i":8,"t":2.21,"z":0.99},{"p":"l","m":"SA-MPPI","i":9,"t":2.59,"z":0.977},{"p":"l","m":"SA-MPPI","i":10,"t":2.98,"z":0.982},{"p":"l","m":"SA-MPPI","i":11,"t":3.55,"z":0.98},{"p":"l","m":"SA-MPPI","i":12,"t":3.93,"z":0.977},{"p":"l","m":"SA-MPPI","i":13,"t":4.32,"z":0.942},{"p":"l","m":"SA-MPPI","i":14,"t":4.61,"z":0.91},{"p":"l","m":"SA-MPPI","i":15,"t":5.09,"z":0.9},{"p":"l","m":"SA-MPPI","i":16,"t":5.57,"z":0.914},{"p":"l","m":"SA-MPPI","i":17,"t":5.95,"z":0.919},{"p":"l","m":"SA-MPPI","i":18,"t":6.24,"z":0.897},{"p":"l","m":"SA-MPPI","i":19,"t":6.62,"z":0.878},{"p":"l","m":"SA-MPPI","i":20,"t":7.0,"z":0.866},{"p":"l","m":"SA-MPPI","i":21,"t":7.49,"z":0.891},{"p":"l","m":"SA-MPPI","i":22,"t":8.0,"z":0.847},
{"p":"l","m":"Reference","i":0,"t":0,"z":1.0},{"p":"l","m":"Reference","i":1,"t":8,"z":1.0},
{"p":"s","m":"MPPI","i":0,"t":0,"z":1.0},{"p":"s","m":"MPPI","i":1,"t":0.15,"z":0.951},{"p":"s","m":"MPPI","i":2,"t":0.44,"z":0.936},{"p":"s","m":"MPPI","i":3,"t":0.73,"z":0.933},{"p":"s","m":"MPPI","i":4,"t":1.11,"z":0.929},{"p":"s","m":"MPPI","i":5,"t":1.49,"z":0.907},{"p":"s","m":"MPPI","i":6,"t":1.88,"z":0.893},{"p":"s","m":"MPPI","i":7,"t":2.16,"z":0.9},{"p":"s","m":"MPPI","i":8,"t":2.45,"z":0.871},{"p":"s","m":"MPPI","i":9,"t":2.74,"z":0.835},{"p":"s","m":"MPPI","i":10,"t":3.02,"z":0.828},{"p":"s","m":"MPPI","i":11,"t":3.22,"z":0.82},{"p":"s","m":"MPPI","i":12,"t":3.41,"z":0.755},{"p":"s","m":"MPPI","i":13,"t":3.6,"z":0.668},{"p":"s","m":"MPPI","i":14,"t":3.79,"z":0.581},{"p":"s","m":"MPPI","i":15,"t":3.98,"z":0.545},{"p":"s","m":"MPPI","i":16,"t":4.27,"z":0.545},{"p":"s","m":"MPPI","i":17,"t":4.56,"z":0.523},{"p":"s","m":"MPPI","i":18,"t":4.84,"z":0.545},{"p":"s","m":"MPPI","i":19,"t":5.03,"z":0.559},{"p":"s","m":"MPPI","i":20,"t":5.23,"z":0.516},
{"p":"s","m":"L1-MPPI","i":0,"t":0,"z":1.0},{"p":"s","m":"L1-MPPI","i":1,"t":0.15,"z":0.936},{"p":"s","m":"L1-MPPI","i":2,"t":0.44,"z":0.943},{"p":"s","m":"L1-MPPI","i":3,"t":0.73,"z":0.965},{"p":"s","m":"L1-MPPI","i":4,"t":1.01,"z":1.001},{"p":"s","m":"L1-MPPI","i":5,"t":1.3,"z":0.98},{"p":"s","m":"L1-MPPI","i":6,"t":1.59,"z":0.972},{"p":"s","m":"L1-MPPI","i":7,"t":1.97,"z":1.001},{"p":"s","m":"L1-MPPI","i":8,"t":2.35,"z":0.98},{"p":"s","m":"L1-MPPI","i":9,"t":2.74,"z":0.929},{"p":"s","m":"L1-MPPI","i":10,"t":3.12,"z":0.951},{"p":"s","m":"L1-MPPI","i":11,"t":3.5,"z":0.98},{"p":"s","m":"L1-MPPI","i":12,"t":3.88,"z":0.99},{"p":"s","m":"L1-MPPI","i":13,"t":4.27,"z":0.936},{"p":"s","m":"L1-MPPI","i":14,"t":4.65,"z":0.907},{"p":"s","m":"L1-MPPI","i":15,"t":5.03,"z":0.922},{"p":"s","m":"L1-MPPI","i":16,"t":5.42,"z":0.9},{"p":"s","m":"L1-MPPI","i":17,"t":5.8,"z":0.951},{"p":"s","m":"L1-MPPI","i":18,"t":6.09,"z":0.987},{"p":"s","m":"L1-MPPI","i":19,"t":6.47,"z":0.943},{"p":"s","m":"L1-MPPI","i":20,"t":6.85,"z":0.958},{"p":"s","m":"L1-MPPI","i":21,"t":7.24,"z":0.98},{"p":"s","m":"L1-MPPI","i":22,"t":7.62,"z":0.97},{"p":"s","m":"L1-MPPI","i":23,"t":8.0,"z":0.972},
{"p":"s","m":"L1-MPC","i":0,"t":0,"z":1.0},{"p":"s","m":"L1-MPC","i":1,"t":0.15,"z":0.922},{"p":"s","m":"L1-MPC","i":2,"t":0.34,"z":0.943},{"p":"s","m":"L1-MPC","i":3,"t":0.54,"z":0.987},{"p":"s","m":"L1-MPC","i":4,"t":0.82,"z":0.98},{"p":"s","m":"L1-MPC","i":5,"t":1.21,"z":1.038},{"p":"s","m":"L1-MPC","i":6,"t":1.49,"z":1.001},{"p":"s","m":"L1-MPC","i":7,"t":1.78,"z":0.958},{"p":"s","m":"L1-MPC","i":8,"t":2.07,"z":0.965},{"p":"s","m":"L1-MPC","i":9,"t":2.35,"z":0.936},{"p":"s","m":"L1-MPC","i":10,"t":2.83,"z":0.958},{"p":"s","m":"L1-MPC","i":11,"t":3.12,"z":0.987},{"p":"s","m":"L1-MPC","i":12,"t":3.5,"z":0.972},{"p":"s","m":"L1-MPC","i":13,"t":3.88,"z":0.929},{"p":"s","m":"L1-MPC","i":14,"t":4.36,"z":0.9},{"p":"s","m":"L1-MPC","i":15,"t":4.65,"z":0.893},{"p":"s","m":"L1-MPC","i":16,"t":5.03,"z":0.907},{"p":"s","m":"L1-MPC","i":17,"t":5.32,"z":1.009},{"p":"s","m":"L1-MPC","i":18,"t":5.61,"z":0.987},{"p":"s","m":"L1-MPC","i":19,"t":5.99,"z":0.929},{"p":"s","m":"L1-MPC","i":20,"t":6.37,"z":0.965},{"p":"s","m":"L1-MPC","i":21,"t":6.76,"z":0.987},{"p":"s","m":"L1-MPC","i":22,"t":7.04,"z":0.951},{"p":"s","m":"L1-MPC","i":23,"t":7.33,"z":0.994},{"p":"s","m":"L1-MPC","i":24,"t":7.62,"z":0.958},{"p":"s","m":"L1-MPC","i":25,"t":8.0,"z":0.958},
{"p":"s","m":"SA-MPPI","i":0,"t":0,"z":1.0},{"p":"s","m":"SA-MPPI","i":1,"t":0.11,"z":0.972},{"p":"s","m":"SA-MPPI","i":2,"t":0.29,"z":1.009},{"p":"s","m":"SA-MPPI","i":3,"t":0.44,"z":1.013},{"p":"s","m":"SA-MPPI","i":4,"t":0.63,"z":0.972},{"p":"s","m":"SA-MPPI","i":5,"t":0.92,"z":0.893},{"p":"s","m":"SA-MPPI","i":6,"t":1.11,"z":0.936},{"p":"s","m":"SA-MPPI","i":7,"t":1.4,"z":0.987},{"p":"s","m":"SA-MPPI","i":8,"t":1.68,"z":0.983},{"p":"s","m":"SA-MPPI","i":9,"t":2.07,"z":0.864},{"p":"s","m":"SA-MPPI","i":10,"t":2.35,"z":0.922},{"p":"s","m":"SA-MPPI","i":11,"t":2.64,"z":0.965},{"p":"s","m":"SA-MPPI","i":12,"t":2.93,"z":0.972},{"p":"s","m":"SA-MPPI","i":13,"t":3.12,"z":0.98},{"p":"s","m":"SA-MPPI","i":14,"t":3.35,"z":1.012},{"p":"s","m":"SA-MPPI","i":15,"t":3.6,"z":0.987},{"p":"s","m":"SA-MPPI","i":16,"t":3.88,"z":0.951},{"p":"s","m":"SA-MPPI","i":17,"t":4.17,"z":0.813},{"p":"s","m":"SA-MPPI","i":18,"t":4.46,"z":0.9},{"p":"s","m":"SA-MPPI","i":19,"t":4.84,"z":0.922},{"p":"s","m":"SA-MPPI","i":20,"t":5.13,"z":0.936},{"p":"s","m":"SA-MPPI","i":21,"t":5.36,"z":0.965},{"p":"s","m":"SA-MPPI","i":22,"t":5.61,"z":0.936},{"p":"s","m":"SA-MPPI","i":23,"t":5.93,"z":0.864},{"p":"s","m":"SA-MPPI","i":24,"t":6.28,"z":0.907},{"p":"s","m":"SA-MPPI","i":25,"t":6.53,"z":0.933},{"p":"s","m":"SA-MPPI","i":26,"t":6.85,"z":0.9},{"p":"s","m":"SA-MPPI","i":27,"t":7.14,"z":0.878},{"p":"s","m":"SA-MPPI","i":28,"t":7.43,"z":0.878},{"p":"s","m":"SA-MPPI","i":29,"t":7.71,"z":0.864},{"p":"s","m":"SA-MPPI","i":30,"t":8.0,"z":0.864},
{"p":"s","m":"Reference","i":0,"t":0,"z":1.0},{"p":"s","m":"Reference","i":1,"t":8,"z":1.0}
]
},
"concat":[
{"width":158,"height":149,"title":{"text":"Circle","frame":"group"},"data":{"name":"xy"},"transform":[{"filter":"datum.p==='c'"}],
 "mark":{"type":"line","interpolate":"catmull-rom","clip":true},
 "encoding":{
  "x":{"field":"x","type":"quantitative","scale":{"domain":[-1.24,1.27],"nice":false,"zero":false},"axis":{"values":[-1,0,1],"format":"d","title":"X (m)","titlePadding":-1}},
  "y":{"field":"y","type":"quantitative","scale":{"domain":[-1.24,1.12],"nice":false,"zero":false},"axis":{"values":[-1,-0.5,0,0.5,1],"format":".1f","title":"Y (m)","titlePadding":9}},
  "order":{"field":"i","type":"quantitative"},
  "color":{"field":"m","type":"nominal","title":null,"scale":{"domain":["Reference","MPPI","SA-MPPI","L1-MPPI","L1-MPC"],"range":["#262626","#2f80c4","#d62728","#a27dcc","#ff8a1f"]},"legend":{"orient":"none","legendX":-69,"legendY":-60,"direction":"horizontal","columns":5}},
  "strokeDash":{"field":"m","type":"nominal","title":null,"scale":{"domain":["Reference","MPPI","SA-MPPI","L1-MPPI","L1-MPC"],"range":[[7,4],[4,2],[1,0],[4,2],[4,2]]},"legend":{"orient":"none","legendX":-69,"legendY":-60,"direction":"horizontal","columns":5}},
  "strokeWidth":{"field":"m","type":"nominal","title":null,"scale":{"type":"ordinal","domain":["Reference","MPPI","SA-MPPI","L1-MPPI","L1-MPC"],"range":[1.6,1.3,2.2,1.3,1.3]},"legend":{"orient":"none","legendX":-69,"legendY":-60,"direction":"horizontal","columns":5}}
 }},
{"width":159,"height":148,"title":{"text":"Lemniscate","frame":"group"},"data":{"name":"xy"},"transform":[{"filter":"datum.p==='l'"}],
 "mark":{"type":"line","interpolate":"catmull-rom","clip":true},
 "encoding":{
  "x":{"field":"x","type":"quantitative","scale":{"domain":[-1.16,1.2],"nice":false,"zero":false},"axis":{"values":[-1,0,1],"format":"d","title":"X (m)","titlePadding":-1}},
  "y":{"field":"y","type":"quantitative","scale":{"domain":[-1.2,1.025],"nice":false,"zero":false},"axis":{"values":[-1,-0.5,0,0.5,1],"format":".1f","title":null}},
  "order":{"field":"i","type":"quantitative"},
  "color":{"field":"m","type":"nominal","title":null,"scale":{"domain":["Reference","MPPI","SA-MPPI","L1-MPPI","L1-MPC"],"range":["#262626","#2f80c4","#d62728","#a27dcc","#ff8a1f"]},"legend":null},
  "strokeDash":{"field":"m","type":"nominal","title":null,"scale":{"domain":["Reference","MPPI","SA-MPPI","L1-MPPI","L1-MPC"],"range":[[7,4],[4,2],[1,0],[4,2],[4,2]]},"legend":null},
  "strokeWidth":{"field":"m","type":"nominal","title":null,"scale":{"type":"ordinal","domain":["Reference","MPPI","SA-MPPI","L1-MPPI","L1-MPC"],"range":[1.6,1.3,2.2,1.3,1.3]},"legend":null}
 }},
{"width":152,"height":146,"title":{"text":"Star","frame":"group"},"data":{"name":"xy"},"transform":[{"filter":"datum.p==='s'"}],
 "encoding":{
  "x":{"field":"x","type":"quantitative","scale":{"domain":[-0.99,1.15],"nice":false,"zero":false},"axis":{"values":[0,1],"format":"d","title":"X (m)","titlePadding":-1}},
  "y":{"field":"y","type":"quantitative","scale":{"domain":[-1.023,1.023],"nice":false,"zero":false},"axis":{"values":[-1,-0.5,0,0.5,1],"format":".1f","title":null}},
  "order":{"field":"i","type":"quantitative"},
  "color":{"field":"m","type":"nominal","title":null,"scale":{"domain":["Reference","MPPI","SA-MPPI","L1-MPPI","L1-MPC"],"range":["#262626","#2f80c4","#d62728","#a27dcc","#ff8a1f"]},"legend":null},
  "strokeDash":{"field":"m","type":"nominal","title":null,"scale":{"domain":["Reference","MPPI","SA-MPPI","L1-MPPI","L1-MPC"],"range":[[7,4],[4,2],[1,0],[4,2],[4,2]]},"legend":null},
  "strokeWidth":{"field":"m","type":"nominal","title":null,"scale":{"type":"ordinal","domain":["Reference","MPPI","SA-MPPI","L1-MPPI","L1-MPC"],"range":[1.6,1.3,2.2,1.3,1.3]},"legend":null}
 },
 "layer":[
  {"transform":[{"filter":"datum.m!=='Reference'"}],"mark":{"type":"line","interpolate":"catmull-rom","clip":true}},
  {"transform":[{"filter":"datum.m==='Reference'"}],"mark":{"type":"line","interpolate":"linear","clip":true}}
 ]},
{"width":153,"height":149,"data":{"name":"z"},"transform":[{"filter":"datum.p==='c'"}],
 "mark":{"type":"line","interpolate":"catmull-rom","clip":true},
 "encoding":{
  "x":{"field":"t","type":"quantitative","scale":{"domain":[-0.4,8.4],"nice":false,"zero":false},"axis":{"values":[0,2,4,6,8],"format":"d","title":"Time (s)","titlePadding":5}},
  "y":{"field":"z","type":"quantitative","scale":{"domain":[0.5,1.1],"nice":false,"zero":false},"axis":{"values":[0.6,0.8,1.0],"format":".1f","title":"Z (m)","titlePadding":9}},
  "order":{"field":"i","type":"quantitative"},
  "color":{"field":"m","type":"nominal","title":null,"scale":{"domain":["Reference","MPPI","SA-MPPI","L1-MPPI","L1-MPC"],"range":["#262626","#2f80c4","#d62728","#a27dcc","#ff8a1f"]},"legend":null},
  "strokeDash":{"field":"m","type":"nominal","title":null,"scale":{"domain":["Reference","MPPI","SA-MPPI","L1-MPPI","L1-MPC"],"range":[[7,4],[4,2],[1,0],[4,2],[4,2]]},"legend":null},
  "strokeWidth":{"field":"m","type":"nominal","title":null,"scale":{"type":"ordinal","domain":["Reference","MPPI","SA-MPPI","L1-MPPI","L1-MPC"],"range":[1.6,1.3,2.2,1.3,1.3]},"legend":null}
 }},
{"width":154,"height":149,"title":{"text":"(a) XY trajectories under composite disturbance.","fontSize":19,"offset":14,"frame":"group","dx":-31},"data":{"name":"z"},"transform":[{"filter":"datum.p==='l'"}],
 "mark":{"type":"line","interpolate":"catmull-rom","clip":true},
 "encoding":{
  "x":{"field":"t","type":"quantitative","scale":{"domain":[-0.4,8.4],"nice":false,"zero":false},"axis":{"values":[0,2,4,6,8],"format":"d","title":"Time (s)","titlePadding":5}},
  "y":{"field":"z","type":"quantitative","scale":{"domain":[0.505,1.068],"nice":false,"zero":false},"axis":{"values":[0.6,0.8,1.0],"format":".1f","title":null}},
  "order":{"field":"i","type":"quantitative"},
  "color":{"field":"m","type":"nominal","title":null,"scale":{"domain":["Reference","MPPI","SA-MPPI","L1-MPPI","L1-MPC"],"range":["#262626","#2f80c4","#d62728","#a27dcc","#ff8a1f"]},"legend":null},
  "strokeDash":{"field":"m","type":"nominal","title":null,"scale":{"domain":["Reference","MPPI","SA-MPPI","L1-MPPI","L1-MPC"],"range":[[7,4],[4,2],[1,0],[4,2],[4,2]]},"legend":null},
  "strokeWidth":{"field":"m","type":"nominal","title":null,"scale":{"type":"ordinal","domain":["Reference","MPPI","SA-MPPI","L1-MPPI","L1-MPC"],"range":[1.6,1.3,2.2,1.3,1.3]},"legend":null}
 }},
{"width":153,"height":149,"data":{"name":"z"},"transform":[{"filter":"datum.p==='s'"}],
 "mark":{"type":"line","interpolate":"catmull-rom","clip":true},
 "encoding":{
  "x":{"field":"t","type":"quantitative","scale":{"domain":[-0.4,8.4],"nice":false,"zero":false},"axis":{"values":[0,2,4,6,8],"format":"d","title":"Time (s)","titlePadding":5}},
  "y":{"field":"z","type":"quantitative","scale":{"domain":[0.5,1.15],"nice":false,"zero":false},"axis":{"values":[0.6,0.8,1.0],"format":".1f","title":null}},
  "order":{"field":"i","type":"quantitative"},
  "color":{"field":"m","type":"nominal","title":null,"scale":{"domain":["Reference","MPPI","SA-MPPI","L1-MPPI","L1-MPC"],"range":["#262626","#2f80c4","#d62728","#a27dcc","#ff8a1f"]},"legend":null},
  "strokeDash":{"field":"m","type":"nominal","title":null,"scale":{"domain":["Reference","MPPI","SA-MPPI","L1-MPPI","L1-MPC"],"range":[[7,4],[4,2],[1,0],[4,2],[4,2]]},"legend":null},
  "strokeWidth":{"field":"m","type":"nominal","title":null,"scale":{"type":"ordinal","domain":["Reference","MPPI","SA-MPPI","L1-MPPI","L1-MPC"],"range":[1.6,1.3,2.2,1.3,1.3]},"legend":null}
 }}
],
"config":{
 "font":"Liberation Serif",
 "view":{"stroke":"black","strokeWidth":1.2},
 "style":{"guide-label":{"font":"Liberation Serif","fontSize":14,"fill":"black"},"guide-title":{"font":"Liberation Serif","fontSize":14,"fontWeight":"normal","fill":"black"}},
 "axis":{"domain":false,"grid":true,"gridColor":"#c4c4c4","gridDash":[1.5,2],"gridWidth":0.9,"tickColor":"black","tickSize":5,"tickWidth":1,"labelFont":"Liberation Serif","labelFontSize":14,"labelColor":"black","labelPadding":7,"labelFlush":false,"labelOverlap":false,"titleFont":"Liberation Serif","titleFontSize":14,"titleFontWeight":"normal","titleColor":"black"},
 "axisX":{"labelFont":"Liberation Serif","titleFont":"Liberation Serif","titleFontWeight":"normal","labelPadding":5},
 "axisY":{"labelFont":"Liberation Serif","titleFont":"Liberation Serif","titleFontWeight":"normal"},
 "title":{"font":"Liberation Serif","fontSize":17,"fontWeight":"normal","color":"black","offset":4},
 "legend":{"labelFont":"Liberation Serif","labelFontSize":15,"labelColor":"black","symbolType":"stroke","symbolSize":900,"labelOffset":13,"columnPadding":27,"padding":5,"strokeColor":"#d0d0d0","cornerRadius":3,"fillColor":"white"}
}
}
